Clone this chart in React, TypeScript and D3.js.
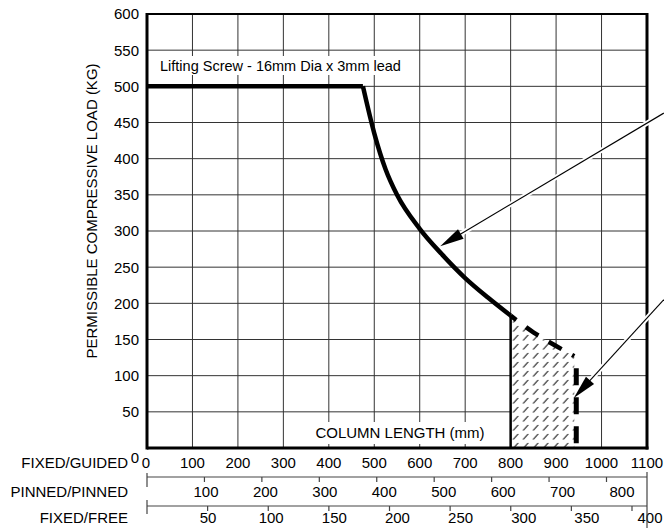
import React from 'react';
import * as d3 from 'd3';

// ---- data ----
const yTickValues = [0, 50, 100, 150, 200, 250, 300, 350, 400, 450, 500, 550, 600];
const fixedGuidedTicks = [0, 100, 200, 300, 400, 500, 600, 700, 800, 900, 1000, 1100];
const pinnedPinnedTicks = [100, 200, 300, 400, 500, 600, 700, 800];
const fixedFreeTicks = [50, 100, 150, 200, 250, 300, 350, 400];

// flat limit (screw strength)
const flatLength = [0, 475];
const flatLoad = [500, 500];
// buckling curve (solid)
const curveLength = [475, 500, 525, 550, 600, 650, 700, 750, 800];
const curveLoad = [500, 435, 385, 350, 303, 267, 235, 208, 183];
// extended (dashed) curve
const extLength = [800, 850, 900, 940];
const extLoad = [183, 160, 141, 127];
const cutoffLength = 940;

// annotation arrows: [startLength, startLoad, tipLength, tipLoad]
const arrow1 = [1137, 463, 645, 279];
const arrow2 = [1137, 205, 939, 69];

const titleText = 'Lifting Screw - 16mm Dia x 3mm lead';
const xAxisText = 'COLUMN LENGTH (mm)';
const yAxisText = 'PERMISSIBLE COMPRESSIVE LOAD (KG)';
const rowLabels = ['FIXED/GUIDED', 'PINNED/PINNED', 'FIXED/FREE'];

const FONT = "'Liberation Sans', Arial, Helvetica, sans-serif";

export default function App() {
  const W = 664, H = 528;
  const x = d3.scaleLinear().domain([0, 1100]).range([147, 647]);
  const y = d3.scaleLinear().domain([0, 600]).range([448, 14]);

  const pinTick = d3.scaleLinear().domain([0, 800]).range([147, 606.5]);
  const pinLabel = d3.scaleLinear().domain([0, 800]).range([146.6, 622]);
  const freeTick = d3.scaleLinear().domain([0, 400]).range([147, 632]);
  const freeLabel = d3.scaleLinear().domain([0, 400]).range([144.9, 650]);

  const lineGen = d3.line<[number, number]>().x(d => x(d[0])).y(d => y(d[1]));
  const curveGen = d3.line<[number, number]>().x(d => x(d[0])).y(d => y(d[1])).curve(d3.curveMonotoneX);

  const flatPts: [number, number][] = flatLength.map((l, i) => [l, flatLoad[i]]);
  const curvePts: [number, number][] = curveLength.map((l, i) => [l, curveLoad[i]]);
  const extPts: [number, number][] = extLength.map((l, i) => [l, extLoad[i]]);

  const hatchTop = curveGen(extPts) || '';
  const hatchPath = `M${x(extLength[0])},${y(0)}L${x(extLength[0])},${y(extLoad[0])}` +
    hatchTop.replace(/^M[^CLc]*/, '') + `L${x(cutoffLength)},${y(0)}Z`;

  const gridH = yTickValues.filter(v => v > 0 && v < 600);
  const gridV = fixedGuidedTicks.filter(v => v > 0 && v < 1100);

  const arrow = (a: number[], key: string) => {
    const x0 = x(a[0]), y0 = y(a[1]), x1 = x(a[2]), y1 = y(a[3]);
    const dx = x1 - x0, dy = y1 - y0;
    const len = Math.hypot(dx, dy);
    const ux = dx / len, uy = dy / len;
    const hl = 24, hw = 5.5;
    const bx = x1 - ux * hl, by = y1 - uy * hl;
    const p1 = [bx - uy * hw, by + ux * hw];
    const p2 = [bx + uy * hw, by - ux * hw];
    return (
      <g key={key}>
        <line x1={x0} y1={y0} x2={bx} y2={by} stroke="#fff" strokeWidth={5} />
        <line x1={x0} y1={y0} x2={bx + ux * 4} y2={by + uy * 4} stroke="#000" strokeWidth={1.1} />
        <polygon points={`${x1},${y1} ${p1[0]},${p1[1]} ${p2[0]},${p2[1]}`} fill="#000" />
      </g>
    );
  };

  const pinY = 477, freeY = 506;

  return (
    <svg width={W} height={H} style={{ position: 'absolute', left: 0, top: 0, background: '#fff' }} fontFamily={FONT}>
      <defs>
        <pattern id="hatch" patternUnits="userSpaceOnUse" width="10" height="9" x={x(800)} y={0}>
          <rect width="10" height="9" fill="#fff" />
          <line x1="2.5" y1="7.5" x2="7.5" y2="2" stroke="#000" strokeWidth={1.1} />
        </pattern>
      </defs>
      <rect x={0} y={0} width={W} height={H} fill="#fff" />

      {/* grid */}
      {gridH.map(v => (
        <line key={'h' + v} x1={x(0)} x2={x(1100)} y1={y(v)} y2={y(v)} stroke="#333" strokeWidth={1} />
      ))}
      {gridV.map(v => (
        <line key={'v' + v} x1={x(v)} x2={x(v)} y1={y(0)} y2={y(600)} stroke="#333" strokeWidth={1} />
      ))}

      {/* text boxes */}
      <rect x={156} y={56} width={246} height={19} fill="#fff" />
      <text x={160} y={70.5} fontSize={14.5} fill="#000">{titleText}</text>
      <rect x={312} y={422} width={176} height={22} fill="#fff" />
      <text x={400} y={438} fontSize={15} textAnchor="middle" fill="#000">{xAxisText}</text>

      {/* hatched region */}
      <path d={hatchPath} fill="url(#hatch)" stroke="none" />
      <line x1={x(800)} x2={x(800)} y1={y(0)} y2={y(extLoad[0])} stroke="#000" strokeWidth={2.5} />

      {/* load curves */}
      <path d={lineGen(flatPts) || ''} fill="none" stroke="#000" strokeWidth={4.5} strokeLinejoin="miter" />
      <path d={curveGen(curvePts) || ''} fill="none" stroke="#000" strokeWidth={4.5} />
      <path d={curveGen(extPts) || ''} fill="none" stroke="#000" strokeWidth={4.5} strokeDasharray="15 12" strokeDashoffset={8} />
      <line x1={x(cutoffLength) + 2} x2={x(cutoffLength) + 2} y1={y(extLoad[extLoad.length - 1])} y2={y(0)}
        stroke="#000" strokeWidth={5} strokeDasharray="17 12" strokeDashoffset={17} />

      {/* frame */}
      <line x1={x(0)} x2={x(1100)} y1={y(600)} y2={y(600)} stroke="#000" strokeWidth={2} />
      <line x1={x(1100)} x2={x(1100)} y1={y(600) - 1} y2={y(0) + 1.5} stroke="#000" strokeWidth={3} />
      <line x1={x(0)} x2={x(1100) + 1.5} y1={y(0)} y2={y(0)} stroke="#000" strokeWidth={3} />
      <line x1={x(0)} x2={x(0)} y1={y(600) - 1} y2={y(0) + 1.5} stroke="#000" strokeWidth={3} />

      {/* arrows */}
      {arrow(arrow1, 'a1')}
      {arrow(arrow2, 'a2')}

      {/* y axis labels */}
      {yTickValues.map(v => (
        <text key={'yl' + v} x={139} y={y(v) + (v === 0 ? 15 : 5.4)} fontSize={15} textAnchor="end" fill="#000">{v}</text>
      ))}
      <text transform={`translate(97,211) rotate(-90)`} fontSize={15} textAnchor="middle" fill="#000">{yAxisText}</text>

      {/* FIXED/GUIDED scale */}
      <text x={128} y={468} fontSize={15} textAnchor="end" fill="#000">{rowLabels[0]}</text>
      {fixedGuidedTicks.map(v => (
        <text key={'fg' + v} x={v === 0 ? x(v) - 1 : x(v)} y={468} fontSize={15} textAnchor="middle" fill="#000">{v}</text>
      ))}

      {/* PINNED/PINNED scale */}
      <text x={128} y={497} fontSize={15} textAnchor="end" fill="#000">{rowLabels[1]}</text>
      <line x1={147} x2={647} y1={pinY} y2={pinY} stroke="#444" strokeWidth={1.2} />
      <line x1={147} x2={147} y1={473} y2={487} stroke="#444" strokeWidth={1.2} />
      {pinnedPinnedTicks.map(v => (
        <line key={'pt' + v} x1={pinTick(v)} x2={pinTick(v)} y1={pinY} y2={pinY + 5} stroke="#444" strokeWidth={1.2} />
      ))}
      {pinnedPinnedTicks.map(v => (
        <text key={'pl' + v} x={pinLabel(v)} y={497} fontSize={15} textAnchor="middle" fill="#000">{v}</text>
      ))}

      {/* FIXED/FREE scale */}
      <text x={128} y={523} fontSize={15} textAnchor="end" fill="#000">{rowLabels[2]}</text>
      <line x1={147} x2={647} y1={freeY} y2={freeY} stroke="#444" strokeWidth={1.2} />
      <line x1={147} x2={147} y1={500} y2={514} stroke="#444" strokeWidth={1.2} />
      {fixedFreeTicks.map(v => (
        <line key={'ft' + v} x1={freeTick(v)} x2={freeTick(v)} y1={freeY} y2={freeY + 5} stroke="#444" strokeWidth={1.2} />
      ))}
      {fixedFreeTicks.map(v => (
        <text key={'fl' + v} x={freeLabel(v)} y={523} fontSize={15} textAnchor="middle" fill="#000">{v}</text>
      ))}
      <line x1={647} x2={647} y1={472} y2={528} stroke="#444" strokeWidth={1.2} />
    </svg>
  );
}
